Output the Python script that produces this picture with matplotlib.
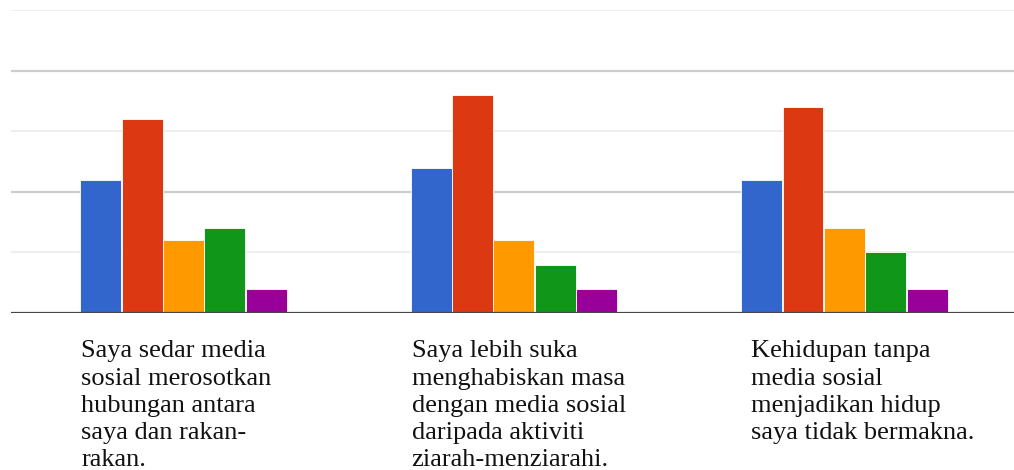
import matplotlib
matplotlib.use('Agg')
from matplotlib import pyplot as plt
import matplotlib.transforms as mtransforms
import numpy as np

# survey answers (42 respondents), one list per answer option
questions = [
    'Saya sedar media\nsosial merosotkan\nhubungan antara\nsaya dan rakan-\nrakan.',
    'Saya lebih suka\nmenghabiskan masa\ndengan media sosial\ndaripada aktiviti\nziarah-menziarahi.',
    'Kehidupan tanpa\nmedia sosial\nmenjadikan hidup\nsaya tidak bermakna.',
]
option_1 = [11, 12, 11]
option_2 = [16, 18, 17]
option_3 = [6, 6, 7]
option_4 = [7, 4, 5]
option_5 = [2, 2, 2]

series = [option_1, option_2, option_3, option_4, option_5]
colors = ['#3366cc', '#dc3912', '#ff9900', '#109618', '#990099']

plt.rcParams['font.family'] = ['Liberation Serif', 'DejaVu Serif']

fig = plt.figure(figsize=(10.14, 4.70), dpi=100)
ax = fig.add_axes([11 / 1014, 157 / 470, 1003 / 1014, 303 / 470])

x = np.arange(len(questions))
width = 0.124
step = 0.1255
for i, (vals, c) in enumerate(zip(series, colors)):
    ax.bar(x + (i - 2) * step, vals, width,
           color=c,
           edgecolor='white',
           linewidth=0.6,
           zorder=2,
    )

# gridlines: darker at 10 and 20, light at the odd fives
for v in [5, 15, 25]:
    ax.axhline(v, color='#ebebeb', linewidth=1.2, zorder=0)
for v in [10, 20]:
    ax.axhline(v, color='#cccccc', linewidth=1.6, zorder=0)
ax.axhline(0, color='#444444', linewidth=1.6, zorder=3)

ax.set_xlim(-0.522, 2.513)
ax.set_ylim(0, 25)
ax.set_xticks([])
ax.set_yticks([])
for s in ax.spines.values():
    s.set_visible(False)

# category labels, left aligned near the first bar of each group
trans = mtransforms.blended_transform_factory(ax.transData, ax.transAxes)
label_shift = [0.0, 0.0, 0.028]  # the last label sits a bit to the right
for xi, q, dx in zip(x, questions, label_shift):
    ax.text(xi - 2 * step - width / 2 + 0.003 + dx, -0.09, q,
            transform=trans,
            ha='left', va='top',
            fontsize=19,
            linespacing=1.31,
            color='#111111',
    )

plt.savefig('out.png', dpi=100)
